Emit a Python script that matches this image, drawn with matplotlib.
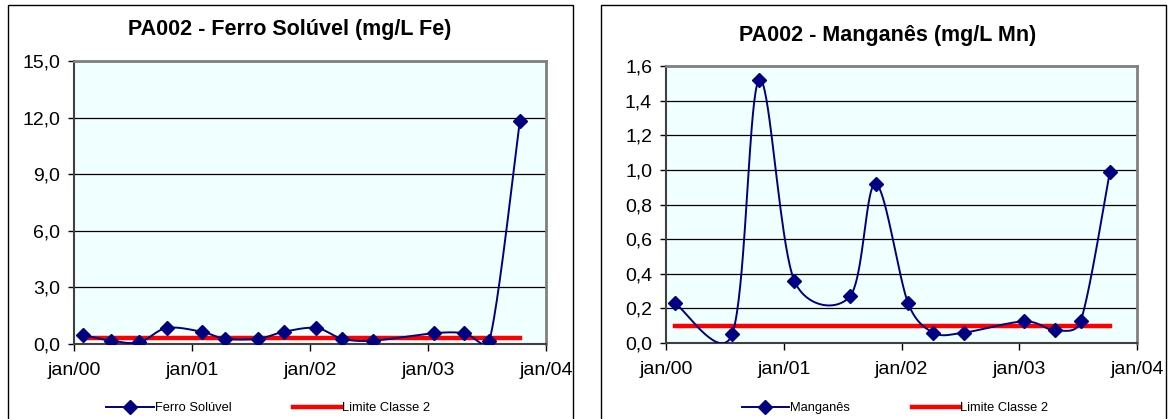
import matplotlib
matplotlib.use("Agg")
from matplotlib import pyplot as plt
import matplotlib.dates as mdates
from matplotlib.patches import Rectangle
from matplotlib.ticker import FuncFormatter
from datetime import date
import numpy as np

"""
PA002 - ferro solúvel e manganês, linhas suavizadas estilo Excel
"""
fe_datas = ["2000-01-29", "2000-04-23", "2000-07-21", "2000-10-14", "2001-01-30",
            "2001-04-13", "2001-07-25", "2001-10-12", "2002-01-20", "2002-04-10",
            "2002-07-16", "2003-01-18", "2003-04-23", "2003-07-10", "2003-10-12"]
fe_valores = [0.48, 0.18, 0.09, 0.85, 0.65, 0.28, 0.28, 0.65, 0.85, 0.28,
              0.18, 0.57, 0.57, 0.18, 11.8]
fe_limite = 0.3

mn_datas = ["2000-01-29", "2000-07-24", "2000-10-16", "2001-02-02", "2001-07-25",
            "2001-10-12", "2002-01-21", "2002-04-09", "2002-07-14", "2003-01-17",
            "2003-04-22", "2003-07-10", "2003-10-09"]
mn_valores = [0.23, 0.05, 1.52, 0.36, 0.27, 0.92, 0.23, 0.06, 0.06, 0.125,
              0.073, 0.125, 0.99]
mn_limite = 0.1

anos = [2000, 2001, 2002, 2003, 2004]
rotulos_x = ["jan/00", "jan/01", "jan/02", "jan/03", "jan/04"]

plt.rcParams["font.family"] = ["Liberation Sans", "DejaVu Sans"]

W, H = 1168, 419


def suavizar(x, y, kx, ky, n=40):
    # bezier do Excel: alça = (P2-P0)/6, limitada a metade do segmento (em pixels)
    x = np.asarray(x, float) * kx
    y = np.asarray(y, float) * ky
    m = len(x)
    px, py = [], []
    for i in range(m - 1):
        i0 = max(i - 1, 0)
        i3 = min(i + 2, m - 1)
        d12 = np.hypot(x[i + 1] - x[i], y[i + 1] - y[i])
        d02 = np.hypot(x[i + 1] - x[i0], y[i + 1] - y[i0])
        d13 = np.hypot(x[i3] - x[i], y[i3] - y[i])
        f1 = 1 / 6 if d02 / 6 < d12 / 2 else d12 / d02 / 2
        f2 = 1 / 6 if d13 / 6 < d12 / 2 else d12 / d13 / 2
        c1x = x[i] + (x[i + 1] - x[i0]) * f1
        c1y = y[i] + (y[i + 1] - y[i0]) * f1
        c2x = x[i + 1] - (x[i3] - x[i]) * f2
        c2y = y[i + 1] - (y[i3] - y[i]) * f2
        t = np.linspace(0, 1, n)
        a, b, c, e = (1 - t) ** 3, 3 * (1 - t) ** 2 * t, 3 * (1 - t) * t ** 2, t ** 3
        px.extend((a * x[i] + b * c1x + c * c2x + e * x[i + 1]) / kx)
        py.extend((a * y[i] + b * c1y + c * c2y + e * y[i + 1]) / ky)
    return px, py


def grafico(ax, largura, altura, datas, valores, limite, ymax, passo, nome):
    xs = mdates.date2num([date.fromisoformat(d) for d in datas])
    ticks = mdates.date2num([date(a, 1, 1) for a in anos])
    kx = largura / (ticks[-1] - ticks[0])
    ky = altura / ymax
    sx, sy = suavizar(xs, valores, kx, ky)
    ax.set_facecolor("#F0FFFF")
    ax.plot(sx, sy, color="#000080", lw=1.4, zorder=3)
    ax.plot(xs, valores, ls="none", marker="D", ms=7.5, color="#000080", zorder=4)
    ax.plot([xs[0], xs[-1]], [limite, limite], color="#FF0000", lw=3.2, zorder=2)
    # handles so pra legenda
    h1, = ax.plot([], [], color="#000080", lw=1.4, marker="D", ms=7.5, label=nome)
    h2, = ax.plot([], [], color="#FF0000", lw=3.2, label="Limite Classe 2")

    ax.set_xlim(ticks[0], ticks[-1])
    ax.set_xticks(ticks)
    ax.set_xticklabels(rotulos_x)
    ax.set_ylim(0, ymax)
    ax.set_yticks(np.arange(0, ymax + passo / 2, passo))
    ax.yaxis.set_major_formatter(FuncFormatter(lambda v, p: f"{v:.1f}".replace(".", ",")))
    ax.grid(axis="y", color="black", lw=0.9)
    ax.set_axisbelow(True)
    for s in ["top", "right"]:
        ax.spines[s].set_color("#808080")
        ax.spines[s].set_linewidth(2)
    for s in ["left", "bottom"]:
        ax.spines[s].set_color("#404040")
        ax.spines[s].set_linewidth(1.5)
    ax.tick_params(axis="y", direction="out", length=4, width=1, pad=6, labelsize=14)
    ax.tick_params(axis="x", direction="out", length=5, width=1, pad=8, labelsize=14)
    return h1, h2


fig = plt.figure(figsize=(11.68, 4.19), dpi=100)

# molduras externas
fig.patches.append(Rectangle((8 / W, -0.05), 565 / W, 1.05 - 5 / H, transform=fig.transFigure,
                             fill=False, ec="black", lw=1))
fig.patches.append(Rectangle((601 / W, -0.05), 565 / W, 1.05 - 5 / H, transform=fig.transFigure,
                             fill=False, ec="black", lw=1))

ax1 = fig.add_axes([74 / W, 75 / H, 472 / W, 283 / H])
ax2 = fig.add_axes([666 / W, 76 / H, 471 / W, 277 / H])

h = grafico(ax1, 472, 283, fe_datas, fe_valores, fe_limite, 15, 3, "Ferro Solúvel")
fig.text(290 / W, 1 - 29 / H, "PA002 - Ferro Solúvel (mg/L Fe)", ha="center", va="center",
         fontsize=15.5, fontweight="bold")
fig.legend(handles=h, loc="center", bbox_to_anchor=(268 / W, 1 - 408 / H), ncol=2, frameon=False,
           fontsize=9.3, handlelength=3.7, handletextpad=0.05, columnspacing=4.8)

h = grafico(ax2, 471, 277, mn_datas, mn_valores, mn_limite, 1.6, 0.2, "Manganês")
fig.text(888 / W, 1 - 35 / H, "PA002 - Manganês (mg/L Mn)", ha="center", va="center",
         fontsize=15.5, fontweight="bold")
fig.legend(handles=h, loc="center", bbox_to_anchor=(895 / W, 1 - 408 / H), ncol=2, frameon=False,
           fontsize=9.3, handlelength=3.7, handletextpad=0.05, columnspacing=4.8)

plt.savefig("out.png", dpi=100)
